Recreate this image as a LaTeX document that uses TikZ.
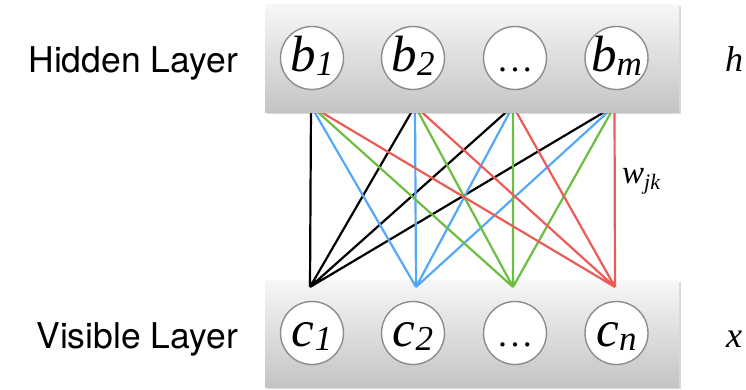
\documentclass[tikz,border=0pt]{standalone}
\usepackage{fontspec}
\setmainfont{Liberation Serif}
\newfontfamily\layerfont{TeX Gyre Heros}
\usetikzlibrary{shadows}
\definecolor{boxtop}{RGB}{247,247,247}
\definecolor{boxbot}{RGB}{196,196,196}
\definecolor{ringgray}{RGB}{140,140,140}
\definecolor{lblue}{RGB}{84,168,250}
\definecolor{lgreen}{RGB}{108,190,64}
\definecolor{lred}{RGB}{236,92,86}
\newcommand{\unitsym}[2]{\fontsize{51}{51}\selectfont\itshape #1\raisebox{-4pt}{\fontsize{35}{35}\selectfont #2}}
\newcommand{\unitdots}{\fontsize{36}{36}\selectfont .\hspace{3.5pt}.\hspace{3.5pt}.}
\begin{document}
\begin{tikzpicture}[x=1pt,y=-1pt,
  layerbox/.style={draw=none, top color=boxtop, bottom color=boxbot, inner sep=0pt,
    anchor=north west, minimum width=414pt,
    drop shadow={shadow xshift=1.5pt, shadow yshift=-2pt, opacity=0.3, fill=gray}},
  unit/.style={circle, draw=ringgray, line width=1.4pt, fill=white, minimum size=63pt,
    inner sep=0pt, text height=27pt, text depth=0pt},
  conn/.style={line width=2.2pt},
  layerlabel/.style={anchor=base east, inner sep=0pt, font=\layerfont\fontsize{35.5}{36}\selectfont},
  varlabel/.style={anchor=base, inner sep=0pt, font=\fontsize{36}{36}\selectfont\itshape}]
\useasboundingbox (0,0) rectangle (746,390);
% visible layer box
\node[layerbox, minimum height=107pt] (visbox) at (265,280) {};
% connection endpoints
\coordinate (t1) at (311,106);
\coordinate (t2) at (415,106);
\coordinate (t3) at (513,106);
\coordinate (t4) at (614.5,106);
\coordinate (s1) at (310,287);
\coordinate (s2) at (416,287);
\coordinate (s3) at (513,287);
\coordinate (s4) at (615,287);
\draw[conn, black] (t1) -- (s1) (t2) -- (s1) (t3) -- (s1) (t4) -- (s1);
\draw[conn, lblue] (t1) -- (s2) (t2) -- (s2) (t3) -- (s2) (t4) -- (s2);
\draw[conn, lgreen] (t1) -- (s3) (t2) -- (s3) (t3) -- (s3) (t4) -- (s3);
\draw[conn, lred] (t1) -- (s4) (t2) -- (s4) (t3) -- (s4) (t4) -- (s4);
% hidden layer box
\node[layerbox, minimum height=108pt] (hidbox) at (265,4) {};
% units
\node[unit] (b1) at (312,58) {\unitsym{b}{1}};
\node[unit] (b2) at (413,58) {\unitsym{b}{2}};
\node[unit] (b3) at (515,58) {\unitdots};
\node[unit] (bm) at (616.5,58) {\unitsym{b}{m}};
\node[unit] (c1) at (312,333) {\unitsym{c}{1}};
\node[unit] (c2) at (413,333) {\unitsym{c}{2}};
\node[unit] (c3) at (515,333) {\unitdots};
\node[unit] (cn) at (616.5,333) {\unitsym{c}{n}};
% labels
\node[layerlabel] (hl) at (238,73) {Hidden Layer};
\node[layerlabel] (vl) at (238,348) {Visible Layer};
\node[varlabel] (hv) at (734,72) {h};
\node[varlabel] (xv) at (734,347) {x};
\node[anchor=base west, inner sep=0pt] (wl) at (622,183)
  {\fontsize{33}{33}\selectfont\itshape w\raisebox{-6pt}{\fontsize{22}{22}\selectfont jk}};
\end{tikzpicture}
\end{document}
